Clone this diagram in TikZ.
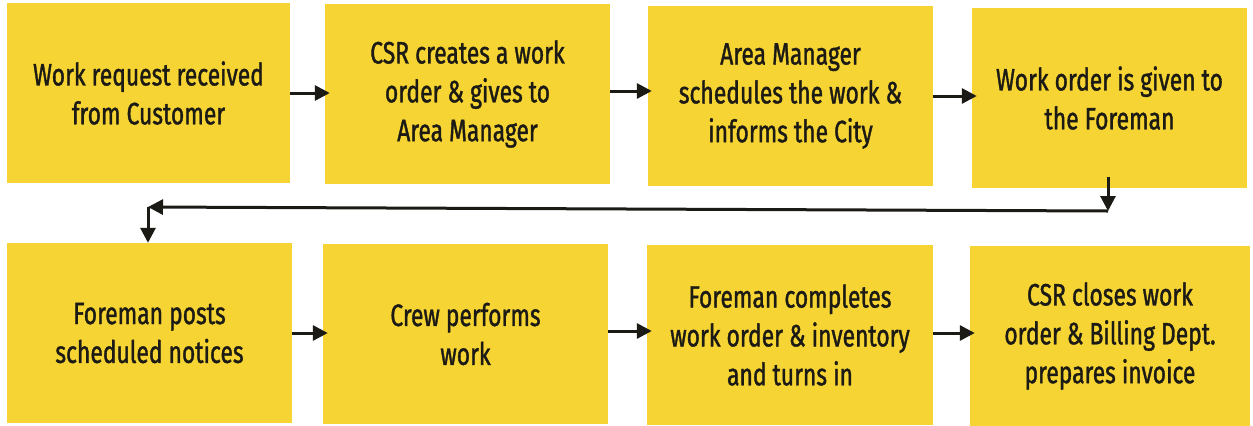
\documentclass[tikz,border=0pt]{standalone}
\usepackage{fontspec}
\setmainfont[FakeStretch=0.74,FakeBold=1.2]{Fira Sans}
\usetikzlibrary{arrows.meta}
\definecolor{boxyellow}{RGB}{246,212,52}
\definecolor{inkdark}{RGB}{28,26,20}
\begin{document}
\begin{tikzpicture}[x=1bp,y=-1bp,
  stepbox/.style={fill=boxyellow,draw=none,inner sep=0pt,
    minimum width=#1,minimum height=180bp,align=center,text=inkdark,
    font=\fontsize{31}{39}\selectfont},
  flow/.style={draw=inkdark,line width=3bp,
    -{Triangle[length=15bp,width=15bp]}}]
\useasboundingbox (0,0) rectangle (1253,425);
% top row
\node[stepbox=283bp] (b1) at (148.5,93) {Work request received\\from Customer};
\node[stepbox=285bp] (b2) at (467.5,94) {CSR creates a work\\order \& gives to\\Area Manager};
\node[stepbox=285bp] (b3) at (790.5,96) {Area Manager\\schedules the work \&\\informs the City};
\node[stepbox=275bp] (b4) at (1109.5,98) {Work order is given to\\the Foreman};
% bottom row
\node[stepbox=285bp] (b5) at (149.5,333) {Foreman posts\\scheduled notices};
\node[stepbox=285bp] (b6) at (465.5,334) {Crew performs\\work};
\node[stepbox=286bp] (b7) at (790,335) {Foreman completes\\work order \& inventory\\and turns in};
\node[stepbox=280bp] (b8) at (1110,336) {CSR closes work\\order \& Billing Dept.\\prepares invoice};
% left-to-right arrows
\draw[flow,shorten >=-5bp] (b1.east) -- (b1.east -| b2.west);
\draw[flow,shorten >=-4bp] ([yshift=3bp]b2.east) -- ([yshift=3bp]b2.east -| b3.west);
\draw[flow,shorten >=-5bp] (b3.east) -- (b3.east -| b4.west);
\draw[flow,shorten >=-5bp] (b5.east) -- (b5.east -| b6.west);
\draw[flow,shorten >=-5bp] ([yshift=3bp]b6.east) -- ([yshift=3bp]b6.east -| b7.west);
\draw[flow,shorten >=-5bp] ([yshift=2bp]b7.east) -- ([yshift=2bp]b7.east -| b8.west);
% return path from the end of the top row to the start of the bottom row
\coordinate (c1) at (1108,211);
\coordinate (c2) at (148,207);
\draw[flow,shorten <=-11bp] (b4.south -| c1) -- (c1);
\draw[flow] (c1) -- (c2);
\draw[flow] (c2) -- (c2 |- b5.north);
\end{tikzpicture}
\end{document}
